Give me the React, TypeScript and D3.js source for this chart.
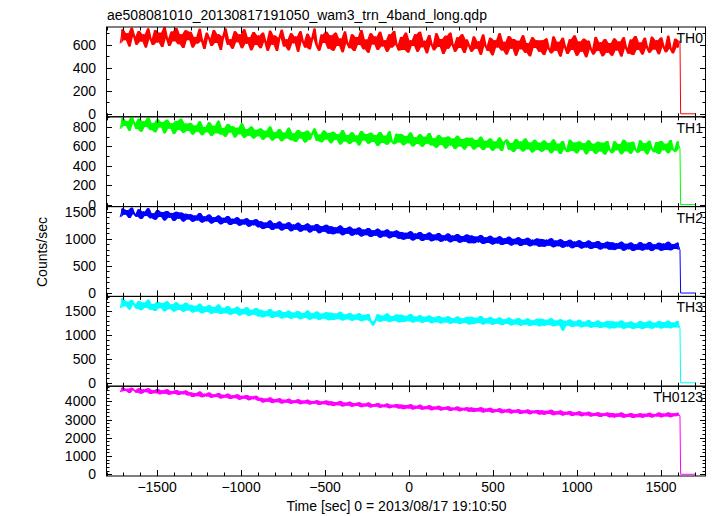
import React from "react";
import * as d3 from "d3";

// Light-curve bins (time in sec relative to 2013/08/17 19:10:50)
const binStart = -1720;
const binSize = 13.946;
const tailTimes = [1617, 1708];
const tailValues = [0, 0];

const th0 = [
  610, 735, 640, 700, 585, 748, 672, 600, 720, 628, 690, 575, 742, 650, 598, 728, 620, 705, 580, 752, 655, 590, 715, 630, 745, 605, 690, 572, 725, 640,
  712, 575, 668, 610, 738, 630, 562, 705, 655, 590, 728, 615, 690, 555, 672, 740, 600, 648, 565, 718, 622, 690, 570, 735, 608, 665, 552, 710, 598, 680,
  570, 705, 625, 548, 722, 600, 680, 545, 660, 730, 585, 648, 552, 700, 612, 672, 540, 718, 628, 575, 695, 560, 655, 740, 590, 548, 688, 615, 712, 565,
  682, 548, 705, 590, 655, 535, 715, 610, 570, 690, 545, 668, 598, 728, 560, 645, 530, 700, 602, 672, 555, 712, 585, 640, 538, 692, 575, 720, 600, 550,
  668, 555, 705, 532, 640, 590, 692, 540, 712, 578, 635, 525, 685, 600, 552, 700, 580, 650, 520, 678, 565, 705, 598, 538, 665, 572, 690, 528, 645, 590,
  540, 672, 565, 630, 512, 688, 590, 545, 660, 508, 640, 575, 700, 550, 625, 515, 675, 565, 650, 505, 635, 560, 682, 530, 615, 500, 665, 572, 640, 538,
  640, 510, 655, 565, 525, 672, 548, 625, 498, 660, 575, 520, 648, 555, 680, 505, 628, 540, 652, 492, 635, 560, 515, 668, 545, 622, 500, 650, 530, 615,
  505, 655, 550, 628, 498, 665, 570, 522, 645, 510, 675, 555, 620, 515, 660, 572, 530, 670, 558, 640, 518, 662, 580, 535, 678, 565, 525, 652, 575, 635,
];

const th1 = [
  780, 895, 810, 862, 762, 905, 838, 778, 885, 752, 860, 800, 898, 768, 842, 745, 880, 795, 852, 735, 875, 782, 838, 728, 862, 768, 885, 740, 835, 758,
  842, 722, 815, 752, 858, 715, 800, 745, 848, 708, 812, 735, 865, 722, 790, 700, 830, 742, 808, 692, 792, 725, 838, 688, 778, 710, 805, 680, 772, 705,
  785, 668, 760, 695, 805, 660, 748, 685, 778, 652, 742, 680, 792, 662, 735, 645, 770, 682, 748, 640, 762, 668, 730, 785, 655, 722, 642, 765, 672, 738,
  632, 750, 665, 725, 620, 768, 650, 718, 625, 745, 648, 712, 610, 758, 660, 728, 628, 740, 645, 718, 605, 748, 635, 710, 618, 755, 648, 622, 730, 640,
  728, 612, 708, 632, 742, 600, 695, 625, 725, 595, 700, 628, 738, 610, 685, 585, 718, 615, 692, 578, 702, 608, 682, 572, 710, 598, 675, 568, 690, 605,
  688, 568, 665, 592, 700, 562, 658, 588, 682, 555, 650, 580, 692, 552, 645, 672, 565, 635, 542, 675, 575, 650, 548, 682, 570, 640, 538, 668, 562, 638,
  545, 660, 565, 635, 530, 672, 558, 628, 522, 655, 570, 542, 668, 552, 640, 528, 650, 565, 632, 518, 662, 555, 626, 525, 648, 548, 638, 515, 655, 562,
  530, 652, 560, 625, 520, 668, 550, 640, 525, 648, 565, 535, 662, 555, 632, 518, 658, 570, 540, 645, 522, 655, 560, 628, 530, 665, 565, 545, 650, 575,
];

const th2 = [
  1400, 1560, 1445, 1530, 1385, 1575, 1460, 1410, 1545, 1368, 1505, 1420, 1565, 1380, 1470, 1352, 1530, 1405, 1495, 1340, 1512, 1390, 1478, 1330, 1498, 1372, 1485, 1320, 1462, 1358,
  1455, 1315, 1432, 1340, 1475, 1300, 1415, 1325, 1448, 1282, 1400, 1312, 1430, 1268, 1388, 1295, 1420, 1255, 1372, 1280, 1400, 1242, 1358, 1265, 1382, 1225, 1345, 1250, 1362, 1212,
  1325, 1180, 1302, 1200, 1340, 1165, 1290, 1192, 1318, 1155, 1278, 1182, 1305, 1140, 1265, 1170, 1298, 1130, 1255, 1158, 1285, 1118, 1245, 1148, 1272, 1105, 1235, 1132, 1258, 1095,
  1232, 1085, 1212, 1102, 1245, 1068, 1198, 1095, 1225, 1058, 1185, 1080, 1210, 1045, 1172, 1068, 1198, 1035, 1160, 1055, 1188, 1022, 1148, 1045, 1172, 1010, 1135, 1032, 1155, 1000,
  1128, 985, 1112, 1002, 1142, 970, 1098, 995, 1125, 960, 1088, 982, 1118, 955, 1078, 975, 1108, 945, 1068, 968, 1098, 935, 1062, 958, 1090, 928, 1052, 948, 1080, 920,
  1060, 918, 1042, 935, 1072, 905, 1030, 925, 1055, 895, 1018, 915, 1048, 888, 1010, 905, 1040, 878, 1000, 898, 1030, 870, 995, 890, 1018, 862, 985, 880, 1008, 855,
  998, 855, 985, 872, 1010, 845, 970, 865, 992, 835, 958, 858, 982, 828, 950, 848, 975, 820, 940, 840, 968, 812, 935, 832, 958, 805, 925, 825, 948, 800,
  935, 792, 920, 815, 948, 782, 910, 808, 932, 778, 900, 800, 940, 785, 908, 802, 942, 775, 898, 810, 928, 780, 912, 795, 945, 788, 905, 812, 930, 795,
];

const th3 = [
  1560, 1770, 1600, 1700, 1535, 1735, 1640, 1552, 1712, 1520, 1680, 1572, 1738, 1528, 1650, 1505, 1695, 1560, 1670, 1498, 1705, 1540, 1645, 1490, 1688, 1525, 1632, 1485, 1675, 1515,
  1632, 1470, 1610, 1490, 1655, 1455, 1595, 1480, 1625, 1445, 1585, 1465, 1640, 1438, 1570, 1455, 1608, 1422, 1555, 1448, 1592, 1410, 1545, 1435, 1582, 1400, 1530, 1422, 1565, 1385,
  1530, 1370, 1505, 1392, 1545, 1358, 1490, 1380, 1520, 1345, 1482, 1368, 1510, 1338, 1472, 1362, 1500, 1330, 1462, 1355, 1515, 1322, 1455, 1345, 1490, 1315, 1448, 1340, 1478, 1310,
  1468, 1315, 1450, 1332, 1485, 1305, 1435, 1325, 1462, 1298, 1425, 1320, 1455, 1290, 1418, 1310, 1442, 1285, 1200, 1305, 1435, 1278, 1408, 1300, 1448, 1270, 1400, 1295, 1430, 1265,
  1422, 1272, 1402, 1290, 1440, 1260, 1388, 1282, 1415, 1255, 1380, 1275, 1408, 1248, 1372, 1268, 1400, 1242, 1365, 1260, 1395, 1235, 1358, 1255, 1388, 1228, 1350, 1250, 1378, 1222,
  1382, 1232, 1360, 1250, 1398, 1222, 1348, 1242, 1375, 1215, 1340, 1235, 1368, 1208, 1332, 1228, 1362, 1202, 1325, 1222, 1355, 1195, 1318, 1215, 1348, 1188, 1310, 1210, 1340, 1182,
  1338, 1192, 1320, 1208, 1352, 1182, 1305, 1200, 1330, 1095, 1298, 1192, 1325, 1168, 1290, 1185, 1318, 1160, 1280, 1178, 1312, 1152, 1272, 1170, 1302, 1145, 1265, 1165, 1295, 1138,
  1290, 1140, 1275, 1155, 1302, 1132, 1262, 1150, 1285, 1128, 1252, 1145, 1292, 1125, 1265, 1152, 1298, 1130, 1258, 1158, 1295, 1135, 1270, 1150, 1300, 1140, 1262, 1160, 1292, 1145,
];

const th0123 = [
  4500, 4760, 4560, 4690, 4450, 4740, 4600, 4470, 4710, 4420, 4660, 4500, 4720, 4400, 4620, 4440, 4680, 4380, 4600, 4420, 4660, 4360, 4560, 4400, 4620, 4340, 4550, 4380, 4590, 4320,
  4500, 4240, 4450, 4280, 4530, 4220, 4420, 4260, 4480, 4190, 4390, 4230, 4450, 4150, 4360, 4200, 4420, 4120, 4330, 4170, 4380, 4090, 4300, 4140, 4340, 4060, 4270, 4110, 4300, 4030,
  4190, 3930, 4150, 3970, 4210, 3900, 4120, 3950, 4170, 3880, 4090, 3920, 4140, 3860, 4060, 3900, 4110, 3840, 4040, 3880, 4090, 3820, 4020, 3860, 4060, 3800, 4000, 3840, 4040, 3780,
  4000, 3740, 3960, 3780, 4020, 3720, 3930, 3760, 3980, 3700, 3900, 3740, 3950, 3680, 3880, 3720, 3930, 3660, 3850, 3700, 3900, 3640, 3830, 3680, 3880, 3620, 3810, 3660, 3850, 3600,
  3820, 3570, 3790, 3600, 3840, 3550, 3760, 3590, 3810, 3530, 3730, 3570, 3780, 3510, 3710, 3550, 3750, 3490, 3690, 3530, 3730, 3470, 3660, 3510, 3710, 3450, 3640, 3490, 3680, 3430,
  3660, 3410, 3630, 3440, 3670, 3390, 3600, 3430, 3640, 3370, 3570, 3410, 3620, 3350, 3550, 3390, 3590, 3330, 3530, 3370, 3570, 3310, 3510, 3350, 3550, 3290, 3490, 3340, 3520, 3270,
  3510, 3260, 3480, 3300, 3530, 3240, 3450, 3280, 3500, 3220, 3430, 3260, 3470, 3200, 3400, 3240, 3450, 3180, 3380, 3220, 3420, 3160, 3360, 3200, 3400, 3140, 3340, 3190, 3380, 3120,
  3360, 3110, 3330, 3150, 3380, 3100, 3310, 3140, 3360, 3090, 3300, 3130, 3350, 3100, 3320, 3150, 3370, 3110, 3310, 3160, 3380, 3120, 3330, 3170, 3390, 3130, 3340, 3180, 3370, 3190,
];

const panelNames = ["TH0", "TH1", "TH2", "TH3", "TH0123"];
const panelColors = ["#ff0000", "#00ff00", "#0000ff", "#00ffff", "#ff00ff"];
const panelSeries = [th0, th1, th2, th3, th0123];
const panelDomains: [number, number][] = [
  [-26, 754],
  [-21, 905],
  [-62, 1595],
  [-71, 1808],
  [-95, 4827],
];
const panelMajor = [200, 200, 500, 500, 1000];
const panelMinor = [100, 100, 100, 100, 200];

const xDomain: [number, number] = [-1804, 1768];
const xMajorTicks = [-1500, -1000, -500, 0, 500, 1000, 1500];

const title = "ae508081010_20130817191050_wam3_trn_4band_long.qdp";
const xTitle = "Time [sec] 0 = 2013/08/17 19:10:50";
const yTitle = "Counts/sec";

const W = 717;
const H = 516;
const L = 106;
const R = 706;
const T = 27;
const B = 476;
const FONT = "'Liberation Sans', Arial, Helvetica, sans-serif";

const fmt = (v: number) => (v < 0 ? "\u2212" + Math.abs(v) : String(v));

export default function App() {
  const x = d3.scaleLinear().domain(xDomain).range([L, R]);
  const ph = (B - T) / panelNames.length;
  const xMinor = d3.range(-1800, xDomain[1], 100);
  const majLen = 6;
  const minLen = 3.5;

  return (
    <svg
      width={W}
      height={H}
      style={{ position: "absolute", left: 0, top: 0, background: "#fff" }}
      fontFamily={FONT}
    >
      <rect x={0} y={0} width={W} height={H} fill="#fff" />
      <text x={107} y={20} fontSize={14} fill="#000">
        {title}
      </text>
      {panelNames.map((name, k) => {
        const top = T + k * ph;
        const bot = top + ph;
        const y = d3.scaleLinear().domain(panelDomains[k]).range([bot, top]);
        const vals = panelSeries[k];
        const pts: [number, number][] = vals.map((v, i) => [binStart + i * binSize, v]);
        // min / max of each pair of neighbouring bins (dense-data band)
        const env = vals.slice(0, -1).map((v, i) => {
          const a = vals[i];
          const b = vals[i + 1];
          return { t: binStart + (i + 0.5) * binSize, lo: Math.min(a, b), hi: Math.max(a, b) };
        });
        tailTimes.forEach((t, j) => pts.push([t, tailValues[j]]));
        const line = d3
          .line<[number, number]>()
          .x((d) => x(d[0]))
          .y((d) => y(d[1]));
        const area = d3
          .area<{ t: number; lo: number; hi: number }>()
          .x((d) => x(d.t))
          .y0((d) => y(d.lo))
          .y1((d) => y(d.hi));
        const yMaj = d3.range(0, panelDomains[k][1], panelMajor[k]);
        const yMin = d3.range(0, panelDomains[k][1], panelMinor[k]);
        return (
          <g key={name}>
            <path d={area(env) || ""} fill={panelColors[k]} stroke="none" />
            <path d={line(pts) || ""} fill="none" stroke={panelColors[k]} strokeWidth={1} />
            <rect
              x={L + 0.5}
              y={top}
              width={R - L - 1}
              height={ph}
              fill="none"
              stroke="#000"
              strokeWidth={1}
            />
            {xMinor.map((t) => {
              const isMaj = xMajorTicks.includes(t);
              const len = isMaj ? majLen : minLen;
              const xx = Math.round(x(t)) + 0.5;
              return (
                <g key={"xt" + t}>
                  <line x1={xx} x2={xx} y1={bot} y2={bot - len} stroke="#000" />
                  <line x1={xx} x2={xx} y1={top} y2={top + len} stroke="#000" />
                </g>
              );
            })}
            {yMin.map((v) => {
              const isMaj = v % panelMajor[k] === 0;
              const len = isMaj ? majLen : minLen;
              const yy = Math.round(y(v)) + 0.5;
              return (
                <g key={"yt" + v}>
                  <line x1={L} x2={L + len} y1={yy} y2={yy} stroke="#000" />
                  <line x1={R} x2={R - len} y1={yy} y2={yy} stroke="#000" />
                </g>
              );
            })}
            {yMaj.map((v) => (
              <text
                key={"yl" + v}
                x={96}
                y={y(v)}
                fontSize={14}
                textAnchor="end"
                dominantBaseline="central"
                fill="#000"
              >
                {fmt(v)}
              </text>
            ))}
            <text x={703} y={top + 16} fontSize={14} textAnchor="end" fill="#000">
              {name}
            </text>
          </g>
        );
      })}
      {xMajorTicks.map((t) => (
        <text key={"xl" + t} x={x(t)} y={492} fontSize={14} textAnchor="middle" fill="#000">
          {fmt(t)}
        </text>
      ))}
      <text x={396.5} y={511} fontSize={14} textAnchor="middle" fill="#000">
        {xTitle}
      </text>
      <text
        transform={`translate(47, 252) rotate(-90)`}
        fontSize={14}
        textAnchor="middle"
        fill="#000"
      >
        {yTitle}
      </text>
    </svg>
  );
}
